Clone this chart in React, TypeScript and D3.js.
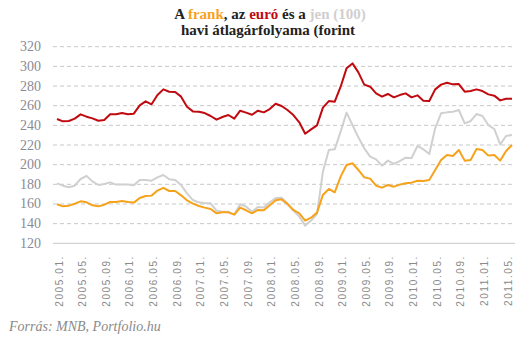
import React from "react";
import * as d3 from "d3";

const eur = [246.4,244.1,244.4,246.8,251.2,248.8,247.1,244.7,245.4,251.2,251.2,252.5,
251.2,251.9,260.3,264.4,261.4,270.8,276.6,274.2,273.9,269.2,259,254.2,
253.9,252.5,249.5,245.8,248.5,250.5,246.8,254.9,252.9,250.8,254.9,253.2,
256.6,262,259.7,255.6,250.5,243.1,231.5,235.9,240,258,264.7,264.1,
279.3,298,303,293.9,281.4,279.3,272.5,269.2,271.9,268.5,270.8,272.5,
268.5,270.5,265.1,264.7,276.6,281.4,283.4,281.7,282,274.2,274.9,276.6,
274.9,271.5,270.2,265.4,267.1,267.1];

const chf = [159.7,157.6,158.3,160.3,162.7,161.7,158.6,157.6,159.3,162,162,163,
162,161.4,166.1,168.1,168.5,173.6,176.3,173.2,173.2,168.8,163.7,160.3,
158,156.3,154.9,150.5,151.5,151.5,149.2,156.3,153.6,150.5,153.9,153.6,
158.6,163.7,164.7,160,153.9,150.5,143.1,146.1,151.2,169.2,175.3,171.9,
187.8,199.7,201.4,194.6,187.1,185.8,178.6,176.6,179.3,177.6,179.7,181,
181.7,183.7,183.4,184.4,194.6,204.7,209.8,208.8,214.9,204.1,204.7,215.9,
214.9,209.2,209.8,204.1,213.9,220];

const jpy = [181,178.6,177,178.6,185.4,188.5,183,179.3,180.3,182,179.7,179.7,
179.7,179,184.4,184.4,183.7,187.1,189.5,185.1,184.4,179.3,170.8,164,
161.7,160.7,160.7,153.2,152.2,152.2,149.2,159.7,157.3,152.2,157,156.3,
161.7,166.1,166.4,160.7,153.2,147.1,138,143.1,149.8,192.9,214.9,215.6,
233.6,252.9,240.3,227.8,216.6,208.1,205.4,199,204.1,200.7,203.7,207.1,
206.8,219,215.6,210.8,237,252.2,253.2,253.9,255.6,242,244.4,251.5,
249.5,240.3,236.3,220.7,229.2,230.2];

const months: string[] = [];
for (let y = 2005; y <= 2011; y++) {
  for (let m = 1; m <= 12; m++) {
    if (y === 2011 && m > 6) break;
    months.push(`${y}.${String(m).padStart(2, "0")}.`);
  }
}
const tickLabels = months.filter((_, i) => i % 4 === 0);
const yTicks = [120, 140, 160, 180, 200, 220, 240, 260, 280, 300, 320];

const RED = "#c00a0f";
const ORANGE = "#f7a21b";
const GRAY = "#d0d0d0";

export default function App() {
  const W = 531, H = 342;
  const x = d3.scalePoint<string>().domain(months).range([57, 512]);
  const y = d3.scaleLinear().domain([120, 320]).range([243.3, 46.7]);
  const line = d3.line<number>().x((_, i) => x(months[i])!).y((d) => y(d));
  const gx0 = 53, gx1 = 515;
  return (
    <svg width={W} height={H} style={{ position: "absolute", left: 0, top: 0, background: "#fff" }}>
      <text x={270} y={19} textAnchor="middle" fontFamily="Liberation Serif" fontWeight="bold" fontSize={15} fill="#222">
        <tspan>A </tspan>
        <tspan fill={ORANGE}>frank</tspan>
        <tspan>, az </tspan>
        <tspan fill={RED}>euró</tspan>
        <tspan> és a </tspan>
        <tspan fill="#cfcfcf">jen (100)</tspan>
      </text>
      <text x={268} y={35} textAnchor="middle" fontFamily="Liberation Serif" fontWeight="bold" fontSize={15} fill="#222">
        havi átlagárfolyama (forint
      </text>
      {yTicks.map((t) => (
        <g key={t}>
          {t === 120 ? (
            <line x1={gx0} x2={gx1} y1={y(t)} y2={y(t)} stroke="#c8c8c8" strokeWidth={1} />
          ) : (
            <line x1={gx0} x2={gx1} y1={y(t)} y2={y(t)} stroke="#c8c8c8" strokeWidth={1} strokeDasharray="4,3" />
          )}
          <text x={41} y={y(t) + 4.5} textAnchor="end" fontFamily="Liberation Serif" fontSize={14} fill="#8a8a96">
            {t}
          </text>
        </g>
      ))}
      {tickLabels.map((lab) => {
        const px = x(lab)! + 5.5;
        return (
          <text key={lab} transform={`translate(${px},255) rotate(-90)`} textAnchor="end"
            fontFamily="Liberation Sans" fontSize={10} letterSpacing={1.6} fill="#8a8a8a">
            {lab}
          </text>
        );
      })}
      <path d={line(jpy)!} fill="none" stroke={GRAY} strokeWidth={2} strokeLinejoin="round" />
      <path d={line(chf)!} fill="none" stroke={ORANGE} strokeWidth={2} strokeLinejoin="round" />
      <path d={line(eur)!} fill="none" stroke={RED} strokeWidth={2} strokeLinejoin="round" />
      <text x={9} y={331} fontFamily="Liberation Serif" fontStyle="italic" fontSize={14} fill="#8a8a8a">
        Forrás: MNB, Portfolio.hu
      </text>
    </svg>
  );
}
